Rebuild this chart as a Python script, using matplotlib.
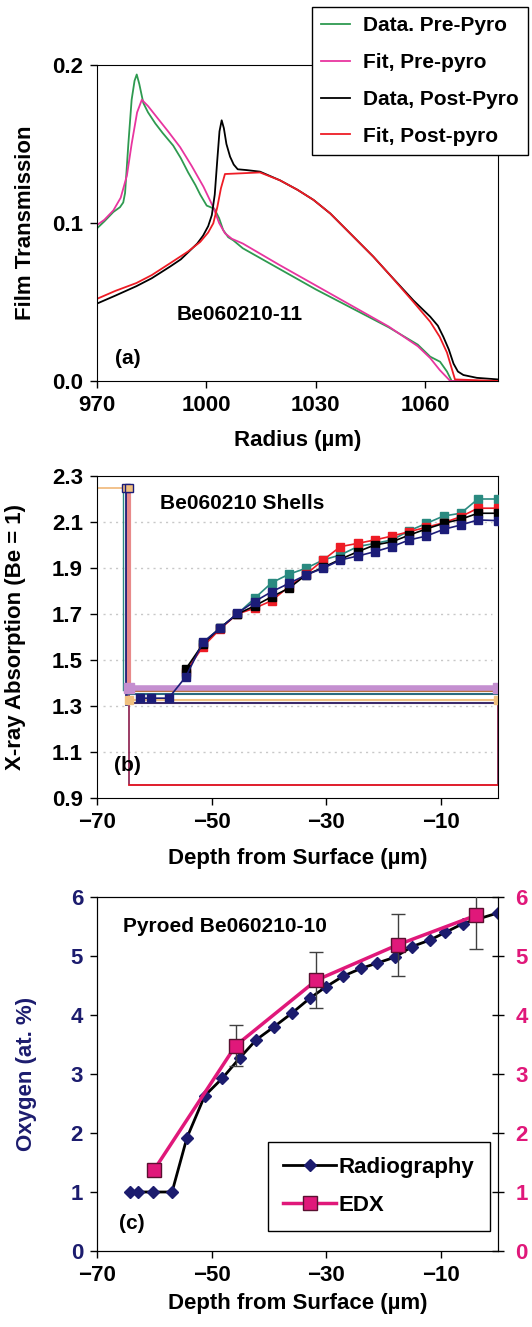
import matplotlib.pyplot as plt

plt.rcParams['font.family'] = ['Liberation Sans Narrow', 'Liberation Sans', 'DejaVu Sans']
plt.rcParams['font.weight'] = 'bold'
plt.rcParams['axes.labelweight'] = 'bold'

# ---- (a) film transmission vs radius ----
pre_data_r = [970, 972, 974.5, 976.3, 977.2, 977.7, 978.6, 979.5, 980.3, 980.9, 981.6, 982.7,
              984, 986, 988, 990.9, 993, 995, 997, 998.3, 1000.1, 1002.2, 1003.5, 1004.6,
              1006, 1007.4, 1010, 1020, 1030, 1040, 1050, 1058, 1061.4, 1064.1, 1066, 1067.3,
              1080]
pre_data_t = [0.0966, 0.101, 0.107, 0.110, 0.113, 0.119, 0.150, 0.178, 0.190, 0.194, 0.188, 0.176,
              0.170, 0.163, 0.157, 0.149, 0.141, 0.132, 0.124, 0.118, 0.111, 0.109, 0.103, 0.0956,
              0.091, 0.089, 0.084, 0.071, 0.058, 0.046, 0.034, 0.023, 0.0154,
              0.0122, 0.006, 0.0, 0.0]
pre_fit_r = [970, 972, 974.5, 976.5, 978.2, 979.5, 981, 982.3, 984, 986.4, 989.5, 992.8, 996,
             999.2, 1001.9, 1003.5, 1005.1, 1007, 1010, 1020, 1030, 1040, 1050, 1058, 1061.4,
             1064, 1066.9, 1080]
pre_fit_t = [0.0987, 0.102, 0.108, 0.116, 0.130, 0.150, 0.170, 0.178, 0.174, 0.167, 0.158, 0.148,
             0.136, 0.123, 0.110, 0.100, 0.0935, 0.090, 0.087, 0.0735, 0.0605, 0.0475, 0.0345,
             0.022, 0.0145, 0.007, 0.0, 0.0]
post_data_r = [970, 975, 980.8, 985, 990.1, 993, 995.7, 997.5, 999.1, 1000.5, 1001.5, 1002.3,
               1003, 1003.6, 1004.2, 1004.8, 1005.5, 1006.5, 1007.5, 1008.6, 1011, 1014.7,
               1020.2, 1025, 1029.4, 1034, 1038.5, 1045.8, 1050, 1056.8, 1061.4, 1063.5, 1065,
               1066.5, 1067.8, 1069, 1070.5, 1074.2, 1080]
post_data_t = [0.049, 0.054, 0.060, 0.065, 0.0725, 0.077, 0.083, 0.087, 0.092, 0.098, 0.105, 0.118,
               0.140, 0.158, 0.165, 0.160, 0.150, 0.142, 0.137, 0.134, 0.1335, 0.1325,
               0.127, 0.121, 0.1146, 0.106, 0.0956, 0.0787, 0.068, 0.051, 0.0407, 0.035, 0.028,
               0.020, 0.011, 0.006, 0.0038, 0.002, 0.001]
post_fit_r = [970, 975, 980.8, 985, 990.1, 995, 998.3, 1000.5, 1001.9, 1003, 1004, 1005.1, 1010,
              1014.7, 1020.2, 1025, 1029.4, 1034, 1038.5, 1045.8, 1050, 1056.8, 1061.4, 1064,
              1066, 1068.2, 1080]
post_fit_t = [0.052, 0.057, 0.062, 0.067, 0.0746, 0.082, 0.088, 0.094, 0.0998, 0.110, 0.122, 0.131,
              0.1315, 0.132, 0.127, 0.121, 0.1146, 0.106, 0.0956, 0.0787, 0.068, 0.050, 0.0375,
              0.028, 0.018, 0.001, 0.0]

# ---- (b) x-ray absorption vs depth ----
depth_b = [-54.5, -51.5, -48.5, -45.5, -42.5, -39.5, -36.5, -33.5, -30.5, -27.5, -24.5,
           -21.5, -18.5, -15.5, -12.5, -9.5, -6.5, -3.5, 0]
abs_teal = [1.44, 1.575, 1.64, 1.70, 1.768, 1.836, 1.873, 1.899, 1.935, 1.957, 1.993,
            2.007, 2.022, 2.062, 2.094, 2.126, 2.138, 2.20, 2.20]
abs_red = [1.45, 1.558, 1.635, 1.70, 1.725, 1.758, 1.819, 1.873, 1.935, 1.993, 2.007,
           2.022, 2.039, 2.058, 2.077, 2.097, 2.123, 2.160, 2.160]
abs_black = [1.461, 1.57, 1.64, 1.70, 1.735, 1.775, 1.812, 1.870, 1.903, 1.938, 1.971,
             2.0, 2.014, 2.043, 2.070, 2.094, 2.112, 2.138, 2.138]
depth_navy = [-62.5, -60.5, -57.5] + depth_b
abs_navy = [1.334, 1.334, 1.334, 1.427, 1.577, 1.638, 1.703, 1.754, 1.797, 1.833, 1.870, 1.899,
            1.935, 1.952, 1.971, 1.993, 2.022, 2.039, 2.068, 2.087, 2.109, 2.106]

# leftover frame lines of the original spreadsheet chart
frame_h_x = [-64.5, 0]
frame_lavender_y = [1.38, 1.38]
frame_brown_y = [1.365, 1.365]
frame_teal_y = [1.352, 1.352]
frame_beige_y = [1.325, 1.325]
frame_navy_y = [1.313, 1.313]
frame_v_top = [2.25, 1.37]
frame_maroon_x = [-64.5, -64.5, 0, 0]
frame_maroon_y = [1.37, 0.955, 0.955, 1.32]
frame_orange_x = [-70, -64.5]
frame_orange_y = [2.25, 2.25]

# ---- (c) oxygen vs depth ----
depth_rad = [-64.2, -62.9, -60.2, -56.9, -54.3, -51.2, -48.1, -45.1, -42.2, -39.1, -36.0,
             -32.9, -30.0, -27.0, -23.9, -21.1, -18.0, -15.0, -11.9, -9.2, -6.1, 0]
oxy_rad = [1.0, 1.0, 1.0, 1.0, 1.92, 2.63, 2.93, 3.27, 3.58, 3.80, 4.03,
           4.28, 4.48, 4.66, 4.79, 4.88, 4.98, 5.16, 5.27, 5.40, 5.55, 5.73]
depth_edx = [-60.0, -45.8, -31.7, -17.5, -3.8]
oxy_edx = [1.38, 3.48, 4.59, 5.19, 5.69]
err_edx = [0.08, 0.35, 0.47, 0.53, 0.57]

fig = plt.figure(figsize=(5.32, 13.27), dpi=100)
W, H = 532.0, 1327.0

def box(left, top, right, bottom):
    return [left / W, 1 - bottom / H, (right - left) / W, (bottom - top) / H]

tick_kw = dict(labelsize=16, length=5, width=1, direction='out', pad=5)

# panel (a)
ax1 = fig.add_axes(box(97, 65, 498, 381))
ax1.plot(pre_data_r, pre_data_t, color='#2e9a50', lw=1.3, label='Data. Pre-Pyro')
ax1.plot(pre_fit_r, pre_fit_t, color='#e8359f', lw=1.3, label='Fit, Pre-pyro')
ax1.plot(post_data_r, post_data_t, color='black', lw=1.3, label='Data, Post-Pyro')
ax1.plot(post_fit_r, post_fit_t, color='#ee1c25', lw=1.3, label='Fit, Post-pyro')
ax1.set_xlim(970, 1080)
ax1.set_ylim(0, 0.2)
ax1.set_xticks([970, 1000, 1030, 1060])
ax1.set_yticks([0.0, 0.1, 0.2])
ax1.set_yticklabels(['0.0', '0.1', '0.2'])
ax1.tick_params(**tick_kw)
ax1.set_xlabel('Radius (µm)', fontsize=16)
ax1.set_ylabel('Film Transmission', fontsize=16)
ax1.xaxis.set_label_coords(0.5, -0.155)
ax1.yaxis.set_label_coords(-0.152, 0.5)
ax1.text(1009.2, 0.042, 'Be060210-11', fontsize=15, ha='center', va='center')
ax1.text(978.4, 0.0145, '(a)', fontsize=15, ha='center', va='center')
leg1 = ax1.legend(loc='upper right', bbox_to_anchor=(528 / W, 1 - 7 / H),
                  bbox_transform=fig.transFigure, borderaxespad=0, fontsize=15,
                  fancybox=False, edgecolor='black', framealpha=1, handlelength=1.4,
                  labelspacing=0.85, borderpad=0.45, handletextpad=0.6)
leg1.get_frame().set_linewidth(1.0)

# panel (b)
ax2 = fig.add_axes(box(97, 476, 498, 798))
for gy in [1.1, 1.3, 1.5, 1.7, 1.9, 2.1]:
    ax2.plot([-69, -1], [gy, gy], color='#c8c8c8', lw=1, ls=(0, (1.5, 3)), zorder=1)
ax2.plot(frame_orange_x, frame_orange_y, color='#f0b878', lw=1.2, zorder=2)
ax2.plot([-65.4, -65.4], frame_v_top, color='#2a8a80', lw=1, zorder=2)
ax2.plot([-65.0, -65.0], [2.25, 1.31], color='#1c1c78', lw=2, zorder=2)
ax2.plot([-64.4, -64.4], frame_v_top, color='#e88a8a', lw=3, zorder=2)
ax2.plot(frame_maroon_x, frame_maroon_y, color='#8a1a4a', lw=1.2, zorder=2)
ax2.plot(frame_maroon_x[1:3], frame_maroon_y[1:3], color='#ee1c25', lw=1.2, zorder=2)
ax2.plot(frame_h_x, frame_navy_y, color='#3c2a6a', lw=1.5, zorder=2)
ax2.plot(frame_h_x, frame_beige_y, color='#f0c080', lw=1.5, marker='s', ms=6, zorder=2)
ax2.plot(frame_h_x, frame_teal_y, color='#2a6a80', lw=1.5, zorder=2)
ax2.plot(frame_h_x, frame_brown_y, color='#b87040', lw=1.5, zorder=2)
ax2.plot(frame_h_x, frame_lavender_y, color='#c48fd0', lw=4, marker='s', ms=7, zorder=2)
ax2.plot([-65.0, -64.4], frame_orange_y, color='none', marker='s', ms=6,
         markerfacecolor='#f0c080', markeredgecolor='#1c1c78', zorder=3)
ax2.plot(depth_b, abs_teal, color='#2a8a80', lw=1.2, marker='s', ms=6, zorder=3)
ax2.plot(depth_b, abs_red, color='#ee1c25', lw=1.2, marker='s', ms=6, zorder=3)
ax2.plot(depth_b, abs_black, color='black', lw=1.2, marker='s', ms=6, zorder=3)
ax2.plot(depth_navy, abs_navy, color='#1c1c78', lw=1.2, marker='s', ms=6, zorder=4)
ax2.set_xlim(-70, 0)
ax2.set_ylim(0.9, 2.3)
ax2.set_xticks([-70, -50, -30, -10])
ax2.set_xticklabels(['\u221270', '\u221250', '\u221230', '\u221210'])
ax2.set_yticks([0.9, 1.1, 1.3, 1.5, 1.7, 1.9, 2.1, 2.3])
ax2.tick_params(**tick_kw)
ax2.set_xlabel('Depth from Surface (µm)', fontsize=16)
ax2.set_ylabel('X-ray Absorption (Be = 1)', fontsize=16)
ax2.xaxis.set_label_coords(0.5, -0.155)
ax2.yaxis.set_label_coords(-0.178, 0.5)
ax2.text(-44.6, 2.18, 'Be060210 Shells', fontsize=15, ha='center', va='center')
ax2.text(-64.6, 1.04, '(b)', fontsize=15, ha='center', va='center')

# panel (c)
navy = '#1c1c6e'
pink = '#e0187a'
ax3 = fig.add_axes(box(97, 897, 498, 1251))
ax3.plot(depth_rad, oxy_rad, color='black', lw=2, marker='D', ms=6.5,
         markerfacecolor=navy, markeredgecolor=navy, label='Radiography', zorder=3)
ax3.set_xlim(-70, 0)
ax3.set_ylim(0, 6)
ax3.set_xticks([-70, -50, -30, -10])
ax3.set_xticklabels(['\u221270', '\u221250', '\u221230', '\u221210'])
ax3.set_yticks(range(7))
ax3.tick_params(**tick_kw)
ax3.tick_params(axis='y', labelcolor=navy)
ax3.set_xlabel('Depth from Surface (µm)', fontsize=16)
ax3.set_ylabel('Oxygen (at. %)', fontsize=16, color=navy)
ax3.xaxis.set_label_coords(0.5, -0.119)
ax3.yaxis.set_label_coords(-0.15, 0.5)
ax3.text(-47.6, 5.50, 'Pyroed Be060210-10', fontsize=15, ha='center', va='center')
ax3.text(-64.0, 0.47, '(c)', fontsize=15, ha='center', va='center')

ax4 = ax3.twinx()
ax4.errorbar(depth_edx, oxy_edx, yerr=err_edx, fmt='none', ecolor='#404040',
             elinewidth=1, capsize=5, zorder=4)
ax4.plot(depth_edx, oxy_edx, color=pink, lw=2.5, marker='s', ms=10,
         markerfacecolor=pink, markeredgecolor='#5a1030', label='EDX', zorder=5)
ax4.set_ylim(0, 6)
ax4.set_yticks(range(7))
ax4.tick_params(axis='y', labelsize=16, labelcolor=pink, direction='inout', length=9,
                width=1, pad=8)
h1, l1 = ax3.get_legend_handles_labels()
h2, l2 = ax4.get_legend_handles_labels()
leg3 = ax4.legend(h1 + h2, l1 + l2, loc='upper right', bbox_to_anchor=(0.98, 0.309),
                  borderaxespad=0, fontsize=16, fancybox=False, edgecolor='black',
                  framealpha=1, handlelength=2.4, handletextpad=0.1, labelspacing=0.75,
                  borderpad=0.7)
leg3.get_frame().set_linewidth(1.0)

fig.savefig('out.png', dpi=100)
